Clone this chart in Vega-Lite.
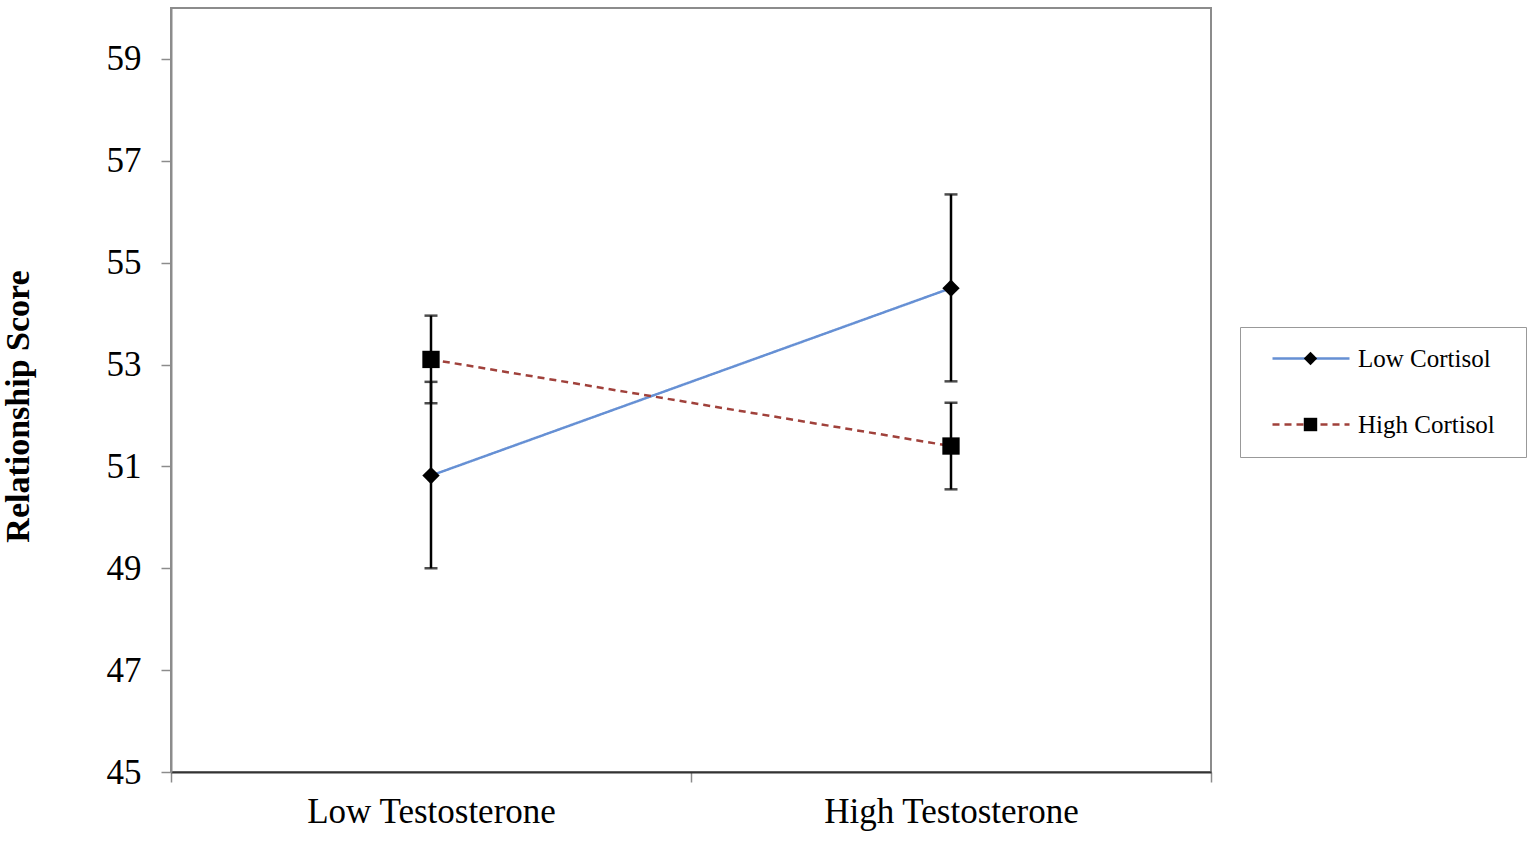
{
  "$schema": "https://vega.github.io/schema/vega-lite/v6.json",
  "width": 1040,
  "height": 764,
  "autosize": "none",
  "padding": {"left": 171, "top": 8, "right": 324, "bottom": 69},
  "background": "white",
  "config": {
    "font": "Liberation Serif",
    "view": {"stroke": "#8c8c8c", "strokeWidth": 2}
  },
  "data": {
    "values": [
      {"t": "Low Testosterone", "c": "Low Cortisol", "mean": 50.82, "lo": 49.0, "hi": 52.66},
      {"t": "High Testosterone", "c": "Low Cortisol", "mean": 54.5, "lo": 52.67, "hi": 56.34},
      {"t": "Low Testosterone", "c": "High Cortisol", "mean": 53.1, "lo": 52.24, "hi": 53.96},
      {"t": "High Testosterone", "c": "High Cortisol", "mean": 51.4, "lo": 50.55, "hi": 52.25}
    ]
  },
  "encoding": {
    "x": {
      "field": "t",
      "type": "nominal",
      "sort": ["Low Testosterone", "High Testosterone"],
      "scale": {"type": "band", "paddingInner": 0, "paddingOuter": 0},
      "axis": {
        "title": null,
        "labelAngle": 0,
        "labelFontSize": 35,
        "labelColor": "black",
        "labelLimit": 0,
        "labelPadding": 12,
        "tickBand": "extent",
        "tickColor": "#8c8c8c",
        "tickSize": 10,
        "tickWidth": 1.5,
        "domainColor": "#333333",
        "domainWidth": 2
      }
    }
  },
  "layer": [
    {
      "mark": {"type": "line", "strokeWidth": 2.5},
      "encoding": {
        "y": {
          "field": "mean",
          "type": "quantitative",
          "scale": {"domain": [45, 60], "nice": false, "zero": false},
          "axis": {
            "values": [45, 47, 49, 51, 53, 55, 57, 59],
            "grid": false,
            "title": "Relationship Score",
            "titleFontSize": 34,
            "titleFontWeight": "bold",
            "titleColor": "black",
            "titlePadding": 71,
            "titleY": 398,
            "labelFontSize": 35,
            "labelColor": "black",
            "labelPadding": 20,
            "tickColor": "#8c8c8c",
            "tickSize": 10,
            "tickWidth": 1.5,
            "domainColor": "#8c8c8c",
            "domainWidth": 2
          }
        },
        "color": {
          "field": "c",
          "type": "nominal",
          "scale": {"domain": ["Low Cortisol", "High Cortisol"], "range": ["#6690D4", "#A0413B"]},
          "legend": {
            "title": " ",
            "titleOrient": "right",
            "titleFontSize": 8,
            "titlePadding": 12,
            "orient": "none",
            "legendX": 1069,
            "legendY": 319,
            "padding": 19,
            "strokeColor": "#999999",
            "fillColor": "white",
            "symbolType": "M0.25,0H19.5",
            "symbolSize": 64,
            "symbolStrokeWidth": 2.5,
            "labelFontSize": 25,
            "labelColor": "black",
            "labelOffset": 74,
            "rowPadding": 40
          }
        },
        "strokeDash": {
          "field": "c",
          "type": "nominal",
          "scale": {"domain": ["Low Cortisol", "High Cortisol"], "range": [[1, 0], [7, 5]]}
        }
      }
    },
    {
      "mark": {"type": "rule", "color": "black", "strokeWidth": 2.5},
      "encoding": {
        "y": {"field": "lo", "type": "quantitative"},
        "y2": {"field": "hi"}
      }
    },
    {
      "mark": {"type": "tick", "color": "black", "thickness": 2.5, "size": 13, "orient": "horizontal"},
      "encoding": {"y": {"field": "lo", "type": "quantitative"}}
    },
    {
      "mark": {"type": "tick", "color": "black", "thickness": 2.5, "size": 13, "orient": "horizontal"},
      "encoding": {"y": {"field": "hi", "type": "quantitative"}}
    },
    {
      "mark": {"type": "point", "filled": true, "color": "black", "opacity": 1, "size": 300},
      "encoding": {
        "y": {"field": "mean", "type": "quantitative"},
        "shape": {
          "field": "c",
          "type": "nominal",
          "sort": ["Low Cortisol", "High Cortisol"],
          "scale": {"range": ["diamond", "square"]},
          "legend": {
            "title": null,
            "orient": "none",
            "legendX": 1108,
            "legendY": 319,
            "padding": 19,
            "symbolFillColor": "black",
            "symbolStrokeColor": "black",
            "symbolOpacity": 1,
            "symbolSize": 180,
            "labelExpr": "''",
            "labelFontSize": 25,
            "rowPadding": 40
          }
        }
      }
    }
  ]
}
